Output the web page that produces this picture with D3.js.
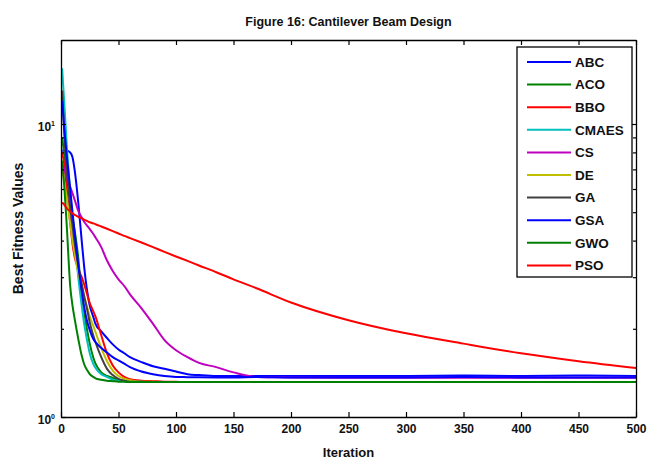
<!DOCTYPE html>
<html>
<head>
<meta charset="utf-8">
<script src="https://cdn.jsdelivr.net/npm/d3@7"></script>
<style>
  html, body { margin: 0; padding: 0; background: #fff; }
  svg { display: block; }
  text { font-family: "Liberation Sans Narrow", "Arial Narrow", "Liberation Sans", Arial, sans-serif; font-weight: bold; fill: #111; }
</style>
</head>
<body>
<div id="chart"></div>
<script>
// ---- data ----
const iterations = [1, 3, 5, 8, 10, 12, 15, 18, 20, 23, 25, 28, 30, 35, 40, 45, 50, 55, 60, 70, 80, 90, 100, 110, 120, 135, 150, 170, 200, 250, 300, 350, 400, 450, 500];
const seriesNames = ["ABC", "ACO", "BBO", "CMAES", "CS", "DE", "GA", "GSA", "GWO", "PSO"];
const abcValues   = [8.1, 8.1, 8.1, 8.0, 7.7, 6.9, 5.4, 4.0, 3.3, 2.65, 2.4, 2.2, 2.08, 1.96, 1.86, 1.77, 1.7, 1.65, 1.6, 1.54, 1.49, 1.46, 1.43, 1.4, 1.39, 1.38, 1.38, 1.38, 1.38, 1.38, 1.38, 1.385, 1.38, 1.385, 1.38];
const acoValues   = [9.0, 7.8, 6.8, 5.5, 4.8, 4.3, 3.5, 2.6, 2.3, 1.95, 1.78, 1.6, 1.52, 1.42, 1.38, 1.36, 1.34, 1.33, 1.325, 1.32, 1.318, 1.316, 1.316, 1.316, 1.316, 1.316, 1.316, 1.316, 1.316, 1.316, 1.316, 1.316, 1.316, 1.316, 1.316];
const bboValues   = [8.0, 7.2, 6.0, 4.6, 3.9, 3.5, 3.2, 3.0, 2.85, 2.6, 2.45, 2.3, 2.2, 1.9, 1.65, 1.5, 1.42, 1.37, 1.345, 1.33, 1.325, 1.32, 1.318, 1.316, 1.316, 1.316, 1.316, 1.316, 1.316, 1.316, 1.316, 1.316, 1.316, 1.316, 1.316];
const cmaesValues = [15.5, 11.5, 8.5, 5.8, 4.7, 3.9, 3.0, 2.4, 2.1, 1.8, 1.65, 1.52, 1.47, 1.4, 1.37, 1.34, 1.33, 1.325, 1.32, 1.318, 1.316, 1.316, 1.316, 1.316, 1.316, 1.316, 1.316, 1.316, 1.316, 1.316, 1.316, 1.316, 1.316, 1.316, 1.316];
const csValues    = [7.3, 7.0, 6.6, 6.1, 5.8, 5.5, 5.05, 4.8, 4.65, 4.48, 4.38, 4.22, 4.1, 3.8, 3.42, 3.15, 2.95, 2.8, 2.62, 2.35, 2.08, 1.83, 1.69, 1.6, 1.53, 1.48, 1.42, 1.37, 1.365, 1.36, 1.36, 1.36, 1.36, 1.36, 1.36];
const deValues    = [7.0, 6.3, 5.6, 4.6, 4.0, 3.6, 3.1, 2.8, 2.6, 2.35, 2.2, 2.05, 1.95, 1.72, 1.55, 1.44, 1.38, 1.35, 1.335, 1.32, 1.318, 1.316, 1.316, 1.316, 1.316, 1.316, 1.316, 1.316, 1.316, 1.316, 1.316, 1.316, 1.316, 1.316, 1.316];
const gaValues    = [13.0, 9.0, 7.0, 5.2, 4.5, 3.9, 3.3, 2.85, 2.6, 2.3, 2.1, 1.9, 1.8, 1.6, 1.46, 1.39, 1.35, 1.33, 1.32, 1.318, 1.316, 1.316, 1.316, 1.316, 1.316, 1.316, 1.316, 1.316, 1.316, 1.316, 1.316, 1.316, 1.316, 1.316, 1.316];
const gsaValues   = [12.0, 9.5, 7.8, 6.0, 5.0, 4.2, 3.3, 2.7, 2.4, 2.1, 1.98, 1.85, 1.8, 1.72, 1.66, 1.6, 1.56, 1.52, 1.48, 1.43, 1.4, 1.38, 1.37, 1.368, 1.366, 1.365, 1.365, 1.37, 1.365, 1.365, 1.365, 1.37, 1.365, 1.365, 1.365];
const gwoValues   = [7.5, 6.0, 4.5, 2.8, 2.4, 2.15, 1.85, 1.62, 1.52, 1.44, 1.4, 1.37, 1.355, 1.34, 1.33, 1.325, 1.32, 1.318, 1.316, 1.316, 1.316, 1.316, 1.316, 1.316, 1.316, 1.316, 1.316, 1.316, 1.316, 1.316, 1.316, 1.316, 1.316, 1.316, 1.316];
const psoValues   = [5.4, 5.3, 5.15, 5.03, 4.95, 4.9, 4.82, 4.76, 4.72, 4.66, 4.62, 4.58, 4.55, 4.47, 4.39, 4.31, 4.23, 4.15, 4.08, 3.94, 3.8, 3.66, 3.53, 3.41, 3.29, 3.12, 2.95, 2.75, 2.46, 2.14, 1.93, 1.78, 1.65, 1.55, 1.47];
const seriesColors = ["#0000ff", "#008000", "#ff0000", "#00bfbf", "#bf00bf", "#bfbf00", "#404040", "#0000ff", "#008000", "#ff0000"];
const xTicks = [0, 50, 100, 150, 200, 250, 300, 350, 400, 450, 500];
const yMajorTicks = [1, 10];
const yMinorTicks = [2, 3, 4, 5, 6, 7, 8, 9];
const titleText = "Figure 16: Cantilever Beam Design";
const xLabelText = "Iteration";
const yLabelText = "Best Fitness Values";

const allValues = [abcValues, acoValues, bboValues, cmaesValues, csValues, deValues, gaValues, gsaValues, gwoValues, psoValues];
const series = seriesNames.map((name, i) => ({
  name, color: seriesColors[i],
  points: iterations.map((it, j) => ({ x: it, y: allValues[i][j] }))
}));

// ---- layout ----
const W = 652, H = 460;
const L = 61, R = 636, T = 40, B = 417;

const svg = d3.select("#chart").append("svg").attr("width", W).attr("height", H);

const x = d3.scaleLinear().domain([0, 500]).range([L, R]);
const y = d3.scaleLog().domain([1, Math.pow(10, (B - T) / 293)]).range([B, T]);

svg.append("defs").append("clipPath").attr("id", "clip")
  .append("rect").attr("x", L).attr("y", T).attr("width", R - L).attr("height", B - T);

svg.append("rect").attr("x", L).attr("y", T).attr("width", R - L).attr("height", B - T).attr("fill", "#fff");

// lines
const line = d3.line().x(d => x(d.x)).y(d => y(d.y)).curve(d3.curveMonotoneX);
const gLines = svg.append("g").attr("clip-path", "url(#clip)");
gLines.selectAll("path").data(series).join("path")
  .attr("d", d => line(d.points))
  .attr("fill", "none")
  .attr("stroke", d => d.color)
  .attr("stroke-width", 2)
  .attr("stroke-linejoin", "round");

// axes
const axisStyle = g => {
  g.selectAll(".domain").attr("stroke", "#000").attr("stroke-width", 1.3);
  g.selectAll(".tick line").attr("stroke", "#000").attr("stroke-width", 1.2);
};
svg.append("g").attr("transform", `translate(0,${B})`)
  .call(d3.axisBottom(x).tickValues(xTicks).tickSizeInner(-5).tickSizeOuter(0).tickPadding(7))
  .call(axisStyle)
  .call(g => g.selectAll("text").attr("font-size", 12).attr("font-family", null).attr("fill", "#111"));
svg.append("g").attr("transform", `translate(0,${T})`)
  .call(d3.axisTop(x).tickValues(xTicks).tickSizeInner(-5).tickSizeOuter(0).tickFormat(""))
  .call(axisStyle);

const yLeft = svg.append("g").attr("transform", `translate(${L},0)`)
  .call(d3.axisLeft(y).tickValues(yMajorTicks).tickSizeInner(-5).tickSizeOuter(0).tickPadding(6).tickFormat(""))
  .call(axisStyle);
yLeft.selectAll(".tick text").each(function(d) {
  const t = d3.select(this).attr("font-size", 12).attr("font-family", null).attr("fill", "#111").attr("dy", "0.5em");
  t.text("10");
  t.append("tspan").attr("dy", "-0.6em").attr("font-size", 7).text(Math.round(Math.log10(d)));
});
svg.append("g").attr("transform", `translate(${L},0)`)
  .call(d3.axisLeft(y).tickValues(yMinorTicks).tickSizeInner(-3).tickSizeOuter(0).tickFormat(""))
  .call(axisStyle).call(g => g.select(".domain").remove());
svg.append("g").attr("transform", `translate(${R},0)`)
  .call(d3.axisRight(y).tickValues(yMajorTicks).tickSizeInner(-5).tickSizeOuter(0).tickFormat(""))
  .call(axisStyle);
svg.append("g").attr("transform", `translate(${R},0)`)
  .call(d3.axisRight(y).tickValues(yMinorTicks).tickSizeInner(-3).tickSizeOuter(0).tickFormat(""))
  .call(axisStyle).call(g => g.select(".domain").remove());

// titles
svg.append("text").attr("x", (L + R) / 2).attr("y", 26).attr("text-anchor", "middle")
  .attr("font-size", 12.5).text(titleText);
svg.append("text").attr("x", (L + R) / 2).attr("y", 457).attr("text-anchor", "middle")
  .attr("font-size", 13).text(xLabelText);
svg.append("text").attr("transform", `translate(23,${(T + B) / 2}) rotate(-90)`).attr("text-anchor", "middle")
  .attr("font-size", 14).text(yLabelText);

// legend
const lgX = 517, lgY = 47, lgW = 115, lgH = 230, rowH = 22.6;
const lg = svg.append("g");
lg.append("rect").attr("x", lgX).attr("y", lgY).attr("width", lgW).attr("height", lgH)
  .attr("fill", "#fff").attr("stroke", "#000").attr("stroke-width", 1.3);
const rows = lg.selectAll("g.row").data(series).join("g").attr("class", "row")
  .attr("transform", (d, i) => `translate(0,${lgY + 15 + i * rowH})`);
rows.append("line").attr("x1", 527).attr("x2", 571).attr("y1", 0).attr("y2", 0)
  .attr("stroke", d => d.color).attr("stroke-width", 2);
rows.append("text").attr("x", 575).attr("y", 0).attr("dy", "0.35em").attr("font-size", 13.5).text(d => d.name);
</script>
</body>
</html>
